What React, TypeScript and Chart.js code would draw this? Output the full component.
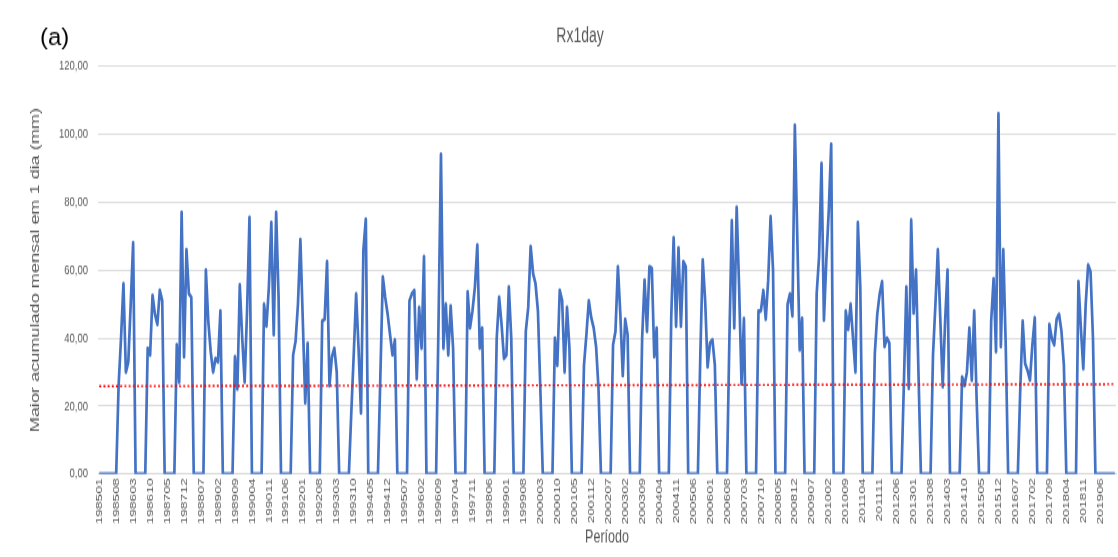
import React, { useEffect, useRef } from 'react';
import { Chart, registerables } from 'chart.js';

Chart.register(...registerables);

// Monthly Rx1day values (mm), Jan..Dec of each year
const y1985 = [0, 0, 0, 0, 0, 0, 0, 0, 26, 40, 56, 30];
const y1986 = [33, 50, 68, 0, 0, 0, 0, 0, 37, 35, 52.6, 47];
const y1987 = [44, 54, 51, 0, 0, 0, 0, 0, 38, 27, 77, 34.5];
const y1988 = [66, 53, 52, 0, 0, 0, 0, 0, 60, 45, 36, 30];
const y1989 = [34, 33, 48, 0, 0, 0, 0, 0, 34.5, 25, 55.6, 40];
const y1990 = [27, 48, 75.5, 0, 0, 0, 0, 0, 50, 43.5, 55, 74];
const y1991 = [41, 77, 52, 0, 0, 0, 0, 0, 35, 39, 50, 69];
const y1992 = [45, 21, 38.5, 0, 0, 0, 0, 0, 45, 45.5, 62.5, 26];
const y1993 = [34.5, 37, 30, 0, 0, 0, 0, 0, 18, 35, 53, 37];
const y1994 = [18, 66, 75, 0, 0, 0, 0, 0, 29, 58, 52, 47];
const y1995 = [41, 35, 39.5, 0, 0, 0, 0, 0, 51, 53, 54, 28];
const y1996 = [49, 37, 64, 0, 0, 0, 0, 0, 45, 94, 37, 50];
const y1997 = [35, 49.5, 37, 0, 0, 0, 0, 0, 53.6, 43, 48, 55];
const y1998 = [67.4, 37, 43, 0, 0, 0, 0, 0, 40, 52, 44, 34];
const y1999 = [35, 55, 40, 0, 0, 0, 0, 0, 42, 49, 67, 59];
const y2000 = [56, 48, 25, 0, 0, 0, 0, 0, 40, 32, 54, 51];
const y2001 = [30, 49, 37, 0, 0, 0, 0, 0, 32, 41, 51, 46];
const y2002 = [43, 37.5, 25, 0, 0, 0, 0, 0, 38, 42, 61, 47];
const y2003 = [29, 45.5, 41, 0, 0, 0, 0, 0, 40, 57, 42, 61];
const y2004 = [60.5, 34.5, 43, 0, 0, 0, 0, 0, 46, 69.5, 43.5, 66.5];
const y2005 = [43.5, 62.5, 61, 0, 0, 0, 0, 0, 35, 63, 51, 31.5];
const y2006 = [38.5, 39.5, 32, 0, 0, 0, 0, 0, 40, 74.5, 43, 78.5];
const y2007 = [55, 26.5, 45.7, 0, 0, 0, 0, 0, 48, 48, 54, 45.5];
const y2008 = [57, 75.7, 60, 0, 0, 0, 0, 0, 50, 53, 46.5, 102.6];
const y2009 = [70, 36.5, 45.8, 0, 0, 0, 0, 0, 53, 64, 91.4, 45.3];
const y2010 = [63, 77.6, 97, 0, 0, 0, 0, 0, 48, 42.5, 50, 40];
const y2011 = [30, 74, 55, 0, 0, 0, 0, 0, 35.5, 47, 53, 56.6];
const y2012 = [37.5, 40, 38.5, 0, 0, 0, 0, 0, 27, 55, 25.2, 74.7];
const y2013 = [47.3, 60, 30, 0, 0, 0, 0, 0, 35, 50, 66, 45.8];
const y2014 = [25.7, 45, 60, 0, 0, 0, 0, 0, 28.6, 26, 30, 43];
const y2015 = [27.6, 48, 22, 0, 0, 0, 0, 0, 45, 57.5, 36, 106];
const y2016 = [37.5, 66, 38, 0, 0, 0, 0, 0, 25, 45, 32.5, 30.5];
const y2017 = [27.6, 38, 46, 0, 0, 0, 0, 0, 44, 40, 38, 45.5];
const y2018 = [47, 42, 32, 0, 0, 0, 0, 0, 56.6, 43, 31, 50];
const y2019 = [61.5, 59.5, 40, 0, 0, 0, 0, 0, 0, 0, 0, 0];

const rx1day = [
  ...y1985, ...y1986, ...y1987, ...y1988, ...y1989, ...y1990, ...y1991,
  ...y1992, ...y1993, ...y1994, ...y1995, ...y1996, ...y1997, ...y1998,
  ...y1999, ...y2000, ...y2001, ...y2002, ...y2003, ...y2004, ...y2005,
  ...y2006, ...y2007, ...y2008, ...y2009, ...y2010, ...y2011, ...y2012,
  ...y2013, ...y2014, ...y2015, ...y2016, ...y2017, ...y2018, ...y2019,
];

const firstYear = 1985;
const lastYear = 2019;
const periods: string[] = [];
for (let y = firstYear; y <= lastYear; y++) {
  for (let m = 1; m <= 12; m++) periods.push(`${y}${String(m).padStart(2, '0')}`);
}

// Linear trend line end values
const trendStart = 25.85;
const trendEnd = 26.4;

const yTickMax = 120;
const yTickStep = 20;
const labelEvery = 7;

const FONT = '"Liberation Sans", Arial, sans-serif';
const GRAY = '#595959';

// The reference picture is vertically stretched: draw at 1118x384, then stretch to 557.
const W = 1118;
const FULL_H = 557;
const H = 384;
const STRETCH = FULL_H / H;

const textPlugin = {
  id: 'extraTexts',
  afterDraw(chart: any) {
    const ctx = chart.ctx;
    ctx.save();
    ctx.fillStyle = GRAY;
    ctx.font = `14px ${FONT}`;
    ctx.textAlign = 'center';
    ctx.textBaseline = 'middle';
    ctx.fillText('Rx1day', 580, 25.5);
    ctx.restore();
    ctx.save();
    ctx.translate(40, 26.2);
    ctx.scale(1, 1 / STRETCH);
    ctx.fillStyle = '#000000';
    ctx.font = `24px ${FONT}`;
    ctx.textAlign = 'left';
    ctx.textBaseline = 'middle';
    ctx.fillText('(a)', 0, 0);
    ctx.restore();
  },
};

export default function App() {
  const ref = useRef<HTMLCanvasElement>(null);
  useEffect(() => {
    document.body.style.margin = '0';
    const chart = new Chart(ref.current as HTMLCanvasElement, {
      type: 'line',
      data: {
        labels: periods,
        datasets: [
          {
            label: 'Rx1day',
            data: rx1day,
            borderColor: '#4472C4',
            backgroundColor: '#4472C4',
            borderWidth: 2.7,
            pointRadius: 0,
            tension: 0,
            borderJoinStyle: 'round',
            order: 2,
          },
          {
            label: 'Tendência',
            data: [
              { x: periods[0], y: trendStart },
              { x: periods[periods.length - 1], y: trendEnd },
            ] as any,
            borderColor: '#FF0000',
            borderWidth: 1.4,
            borderDash: [2, 2.2],
            pointRadius: 0,
            order: 1,
          },
        ],
      },
      options: {
        responsive: false,
        animation: false,
        layout: { padding: { top: 45.5, right: 2, left: 0, bottom: 0 } },
        plugins: {
          legend: { display: false },
          title: { display: false },
          tooltip: { enabled: false },
        },
        scales: {
          x: {
            offset: true,
            grid: { display: false, drawTicks: false },
            border: { display: true, color: '#D9D9D9', width: 1 },
            ticks: {
              autoSkip: false,
              maxRotation: 90,
              minRotation: 90,
              padding: 3,
              color: GRAY,
              font: { family: FONT, size: 9.5 },
              callback: (_v: any, i: number) => (i % labelEvery === 0 ? periods[i] : ''),
            },
            title: {
              display: true,
              text: 'Período',
              color: GRAY,
              font: { family: FONT, size: 12.5 },
              padding: { top: 0, bottom: 6.3 },
            },
            afterFit: (s: any) => {
              s.height = H - 326.8;
              s.paddingRight = 0;
              s.paddingLeft = 0;
            },
          },
          y: {
            min: 0,
            max: yTickMax,
            grid: { color: '#D9D9D9', lineWidth: 0.9, drawTicks: false },
            border: { display: false },
            ticks: {
              stepSize: yTickStep,
              padding: 10,
              color: GRAY,
              font: { family: FONT, size: 9.5 },
              callback: (v: any) => Number(v).toFixed(2).replace('.', ','),
            },
            title: {
              display: true,
              text: 'Maior acumulado mensal em 1 dia (mm)',
              color: GRAY,
              font: { family: FONT, size: 12.5 },
              padding: { top: 28.5, bottom: 0 },
            },
            afterFit: (s: any) => {
              s.width = 98;
              s.paddingTop = 0;
              s.paddingBottom = 0;
            },
          },
        },
      },
      plugins: [textPlugin],
    });
    return () => chart.destroy();
  }, []);
  return (
    <div style={{ width: W, height: FULL_H, background: '#fff', overflow: 'hidden' }}>
      <div
        style={{
          width: W,
          height: H,
          transform: `scaleY(${STRETCH})`,
          transformOrigin: '0 0',
        }}
      >
        <canvas ref={ref} width={W} height={H} style={{ width: W, height: H, display: 'block' }} />
      </div>
    </div>
  );
}
